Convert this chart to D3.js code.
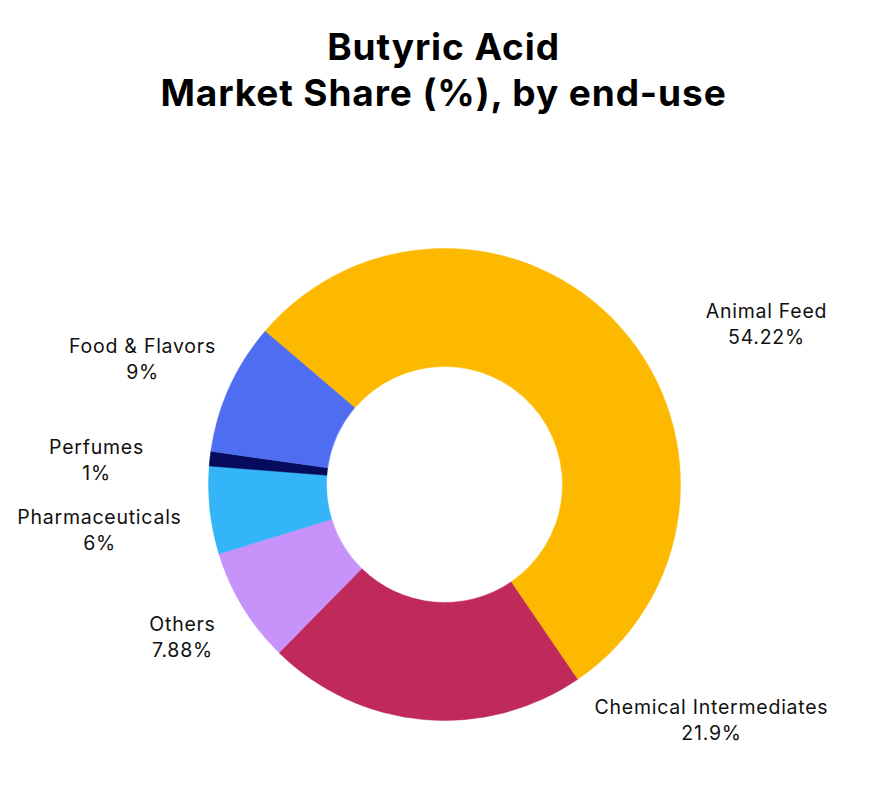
<!DOCTYPE html>
<html>
<head>
<meta charset="utf-8">
<script src="https://cdn.jsdelivr.net/npm/d3@7"></script>
<style>
  html, body { margin: 0; padding: 0; background: #ffffff; }
  svg { display: block; }
</style>
</head>
<body>
<svg id="chart" width="877" height="801"></svg>
<script>
// ---- data ----
const categories = ["Animal Feed", "Chemical Intermediates", "Others", "Pharmaceuticals", "Perfumes", "Food & Flavors"];
const shares = [54.22, 21.9, 7.88, 6, 1, 9];
const shareLabels = ["54.22%", "21.9%", "7.88%", "6%", "1%", "9%"];
const titleLines = ["Butyric Acid", "Market Share (%), by end-use"];

// ---- layout / style (not data) ----
const colors = ["#FDB900", "#C02A5A", "#C793FB", "#33B5F7", "#060B5E", "#4F6DF0"];
const W = 877, H = 801;
const cx = 444.5, cy = 484.5;
const outerR = 236, innerR = 118;
const startDeg = -49.5;
// label anchor offsets from chart centre (first-line baseline)
const labelOffsets = [
  [322, -167], [267, 229], [-262, 146], [-345, 39], [-348, -31], [-302, -132]
];
const fontFamily = "Inter, 'Noto Sans', sans-serif";

const svg = d3.select("#chart");

// title
svg.append("g").selectAll("text")
  .data(titleLines)
  .join("text")
  .attr("x", W / 2 + 5)
  .attr("y", (d, i) => 60 + i * 46)
  .attr("text-anchor", "middle")
  .attr("font-family", fontFamily)
  .attr("font-weight", 700)
  .attr("font-size", 37)
  .attr("letter-spacing", 0.9)
  .attr("fill", "#000")
  .text(d => d);

const rows = categories.map((c, i) => ({ name: c, value: shares[i], label: shareLabels[i], color: colors[i], off: labelOffsets[i] }));

const pie = d3.pie()
  .value(d => d.value)
  .sort(null)
  .startAngle(startDeg * Math.PI / 180)
  .endAngle(startDeg * Math.PI / 180 + 2 * Math.PI);

const arc = d3.arc().innerRadius(innerR).outerRadius(outerR);

const g = svg.append("g").attr("transform", `translate(${cx},${cy})`);

g.selectAll("path")
  .data(pie(rows))
  .join("path")
  .attr("d", arc)
  .attr("fill", d => d.data.color)
  .attr("stroke", d => d.data.color)
  .attr("stroke-width", 0.5);

const labels = g.selectAll("text.lbl")
  .data(rows)
  .join("text")
  .attr("class", "lbl")
  .attr("text-anchor", "middle")
  .attr("font-family", fontFamily)
  .attr("font-size", 19.5)
  .attr("letter-spacing", 0.75)
  .attr("fill", "#111");

labels.append("tspan")
  .attr("x", d => d.off[0])
  .attr("y", d => d.off[1])
  .text(d => d.name);
labels.append("tspan")
  .attr("x", d => d.off[0])
  .attr("y", d => d.off[1] + 26)
  .text(d => d.label);
</script>
</body>
</html>
